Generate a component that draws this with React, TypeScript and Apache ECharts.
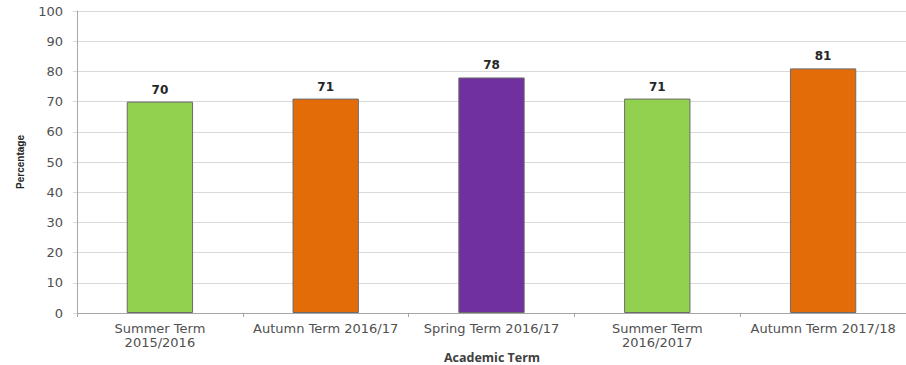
import React, { useEffect, useRef } from "react";
import * as echarts from "echarts";

const categories = [
  "Summer Term\n2015/2016",
  "Autumn Term 2016/17",
  "Spring Term 2016/17",
  "Summer Term\n2016/2017",
  "Autumn Term 2017/18",
];
const values = [70, 71, 78, 71, 81];
const barColors = ["#92D050", "#E36C09", "#7030A0", "#92D050", "#E36C09"];
const yTitle = "Percentage";
const xTitle = "Academic Term";

export default function App() {
  const ref = useRef<HTMLDivElement>(null);
  useEffect(() => {
    if (!ref.current) return;
    const chart = echarts.init(ref.current, undefined, { renderer: "svg" });
    chart.setOption({
      animation: false,
      backgroundColor: "#ffffff",
      grid: { left: 77, right: 0, top: 11, height: 302, outerBoundsMode: "none", containLabel: false },
      graphic: [
        {
          type: "text",
          x: 492,
          y: 357,
          style: {
            text: xTitle,
            x: 0,
            y: 0,
            align: "center",
            verticalAlign: "middle",
            fontFamily: "Open Sans",
            fontWeight: "bold",
            fontSize: 12.5,
            fill: "#404040",
          },
        },
      ],
      xAxis: {
        type: "category",
        data: categories,
        axisLine: { lineStyle: { color: "#a6a6a6" } },
        axisTick: { show: true, length: 4, lineStyle: { color: "#a6a6a6" } },
        axisLabel: {
          fontFamily: "DejaVu Sans",
          fontSize: 13,
          color: "#505050",
          margin: 8,
          lineHeight: 14,
          interval: 0,
        },
      },
      yAxis: {
        type: "value",
        min: 0,
        max: 100,
        interval: 10,
        name: yTitle,
        nameLocation: "middle",
        nameGap: 52,
        nameRotate: 90,
        nameTextStyle: { fontFamily: "Liberation Sans", fontWeight: "bold", fontSize: 10, color: "#262626" },
        axisLine: { show: true, lineStyle: { color: "#a6a6a6" } },
        axisTick: { show: true, length: 4, lineStyle: { color: "#d9d9d9" } },
        axisLabel: { fontFamily: "DejaVu Sans", fontSize: 13, color: "#505050", margin: 14 },
        splitLine: { lineStyle: { color: "#d9d9d9" } },
      },
      series: [
        {
          type: "bar",
          barWidth: "40%",
          data: values.map((v, i) => ({
            value: v,
            itemStyle: { color: barColors[i], borderColor: "#6b6b6b", borderWidth: 1 },
          })),
          label: {
            show: true,
            position: "top",
            distance: 6,
            fontFamily: "DejaVu Sans",
            fontWeight: "bold",
            fontSize: 12,
            color: "#262626",
          },
        },
      ],
    });
    return () => chart.dispose();
  }, []);
  return (
    <div
      ref={ref}
      style={{ position: "fixed", left: 0, top: 0, width: 906, height: 365 }}
    />
  );
}
